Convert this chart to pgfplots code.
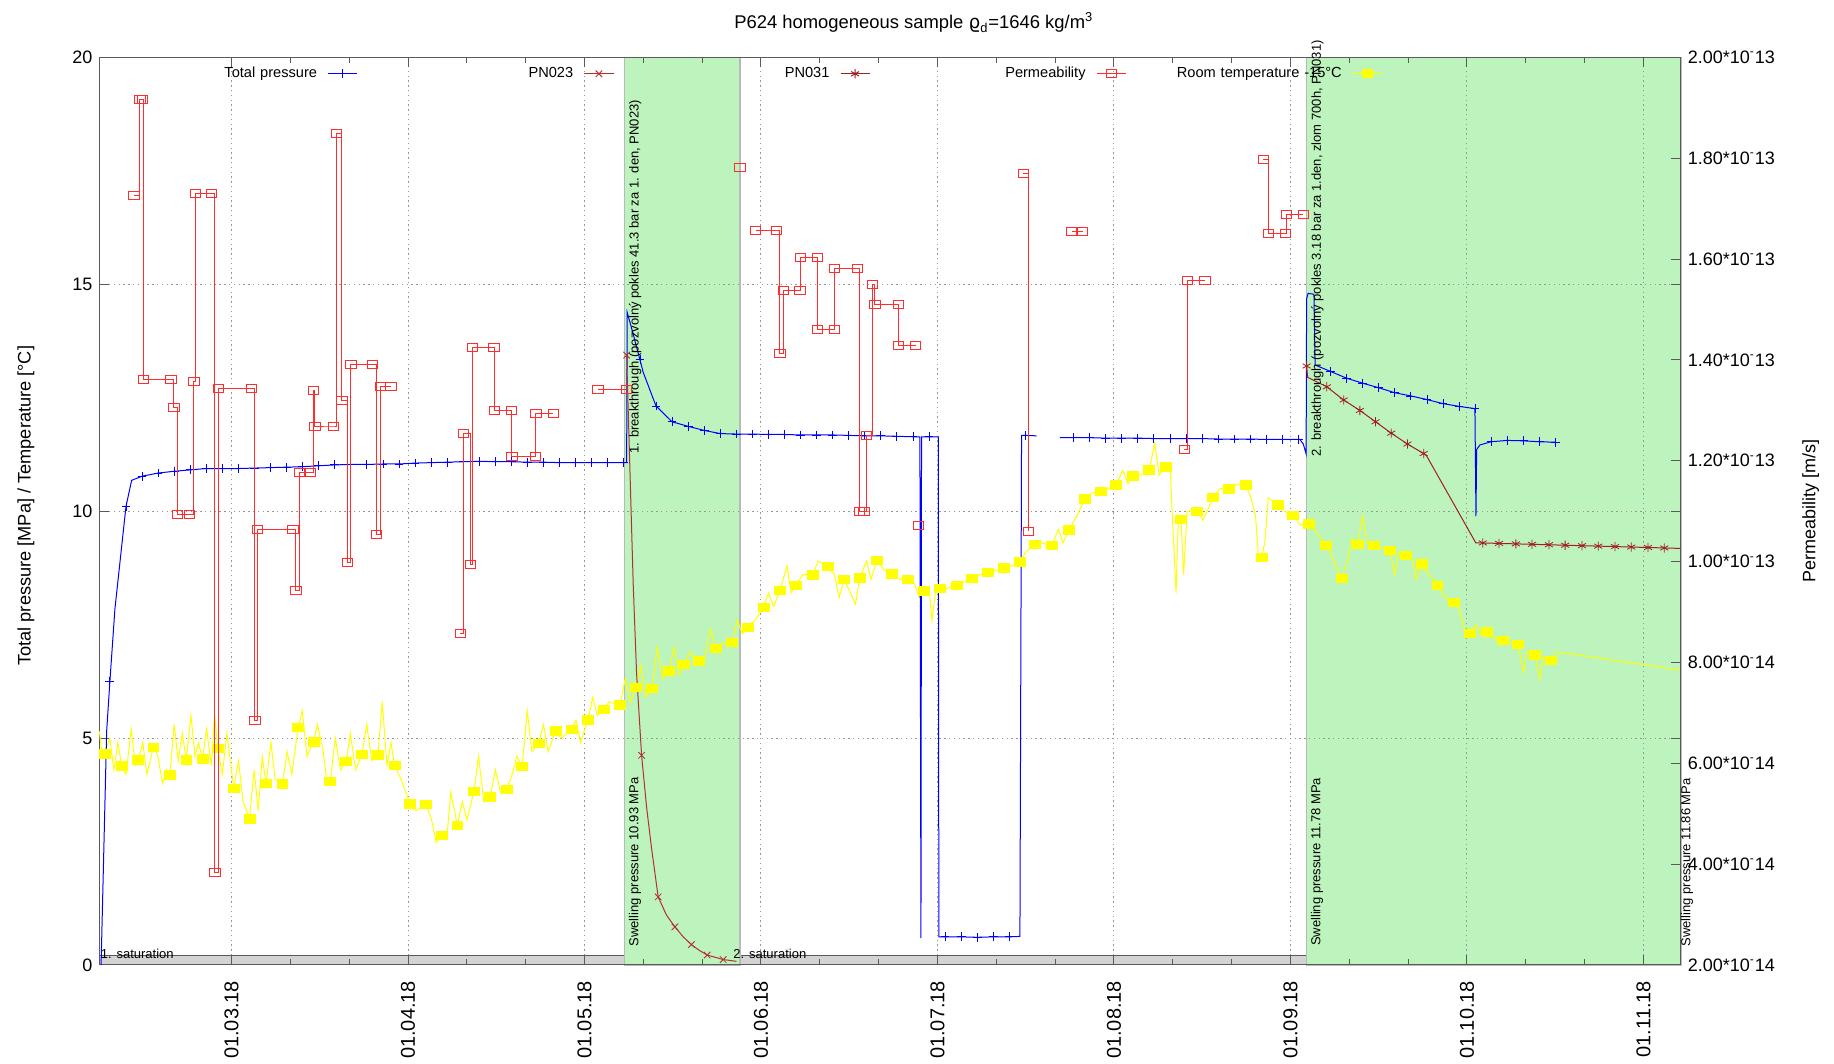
\documentclass[border=0pt]{standalone}
\usepackage{fontspec}
\setmainfont{Liberation Sans}
\newfontfamily\dejavu{DejaVu Sans}
\usepackage{pgfplots}
\usepackage{pgfplotstable}
\pgfplotsset{compat=1.18}

\definecolor{swell}{RGB}{189,243,189}
\definecolor{bandgray}{RGB}{211,211,211}
\definecolor{pnA}{RGB}{178,48,48}
\definecolor{pnB}{RGB}{160,32,32}
\definecolor{permred}{RGB}{255,45,45}
\definecolor{tempyel}{RGB}{255,255,0}
\definecolor{gridgray}{RGB}{150,150,150}
\definecolor{axisgray}{RGB}{90,90,90}

% x = days since 01.03.2018, ticks every 30.4375 days (one mean month)

% total pressure [MPa]; m=1 marks the sampled points drawn with a cross
\pgfplotstableread{
d p m
-22.50 0.00 0
-21.54 5.15 0
-20.98 6.25 1
-20.11 7.85 0
-19.24 8.88 0
-18.21 10.10 1
-17.23 10.68 0
-15.44 10.77 1
-12.67 10.84 1
-9.90 10.88 1
-7.13 10.91 1
-4.36 10.94 1
-1.59 10.94 1
1.18 10.94 1
3.95 10.95 1
6.72 10.96 1
9.49 10.97 1
12.26 10.98 1
15.03 11.00 1
17.80 11.02 1
20.57 11.03 1
23.34 11.03 1
26.11 11.04 1
28.88 11.04 1
31.65 11.06 1
34.42 11.07 1
37.19 11.08 1
39.96 11.09 1
42.73 11.10 1
45.50 11.09 1
48.27 11.09 1
51.04 11.08 1
53.81 11.08 1
56.58 11.07 1
59.35 11.07 1
62.12 11.07 1
64.89 11.07 1
67.66 11.07 1
68.14 11.07 0
68.24 14.38 0
69.28 13.90 0
70.43 13.34 1
71.00 13.06 0
73.20 12.32 1
75.97 11.97 1
78.74 11.87 1
81.51 11.78 1
84.28 11.71 1
87.05 11.70 1
89.82 11.70 1
92.59 11.69 1
95.36 11.69 1
98.13 11.68 1
100.90 11.68 1
103.67 11.68 1
106.44 11.67 1
109.21 11.66 1
111.98 11.66 1
114.75 11.65 1
117.52 11.64 1
118.72 11.64 0
118.90 0.59 0
119.00 11.64 0
120.29 11.64 1
121.89 11.64 0
121.99 0.62 0
123.06 0.62 1
125.83 0.62 1
128.60 0.61 1
131.37 0.62 1
134.14 0.62 1
135.97 0.63 0
136.25 11.67 0
136.91 11.67 1
138.85 11.66 0
140.50 nan 0
142.87 11.62 0
145.22 11.62 1
147.99 11.62 1
150.76 11.61 1
153.53 11.61 1
156.30 11.61 1
159.07 11.60 1
161.84 11.60 1
164.61 11.60 1
167.38 11.60 1
170.15 11.59 1
172.92 11.59 1
175.69 11.59 1
178.46 11.58 1
181.23 11.58 1
184.00 11.58 1
184.26 11.58 0
184.84 11.48 0
185.33 11.26 0
185.41 14.68 0
185.67 14.80 0
186.68 14.78 0
186.88 13.22 0
189.54 13.08 1
192.31 12.93 1
195.08 12.82 1
197.85 12.72 1
200.62 12.61 1
203.39 12.54 1
206.16 12.46 1
208.93 12.37 1
211.70 12.31 1
214.44 12.26 1
214.62 9.89 0
214.74 11.36 0
215.31 11.46 0
217.24 11.53 1
220.01 11.56 1
222.78 11.55 1
225.55 11.53 1
228.32 11.52 1
}\pressure

% pore pressure sensor PN023 [MPa]
\pgfplotstableread{
d p m
68.14 13.44 1
68.70 10.94 0
69.28 8.37 0
69.85 6.44 0
70.72 4.62 1
71.58 3.48 0
72.43 2.58 0
73.58 1.50 1
75.01 1.10 0
76.46 0.84 1
77.90 0.62 0
79.31 0.45 1
80.70 0.32 0
82.03 0.22 1
84.79 0.12 1
87.09 0.08 0
}\pnA

% pore pressure sensor PN031 [MPa]
\pgfplotstableread{
d p m
185.41 13.20 1
185.60 12.95 0
188.90 12.74 1
191.80 12.45 1
194.60 12.22 1
197.30 11.97 1
200.00 11.72 1
202.80 11.48 1
205.60 11.27 1
206.10 11.22 0
214.60 9.30 0
215.80 9.30 1
218.60 9.29 1
221.50 9.28 1
224.30 9.27 1
227.20 9.26 1
230.00 9.25 1
232.90 9.24 1
235.70 9.23 1
238.60 9.22 1
241.40 9.21 1
244.30 9.20 1
247.10 9.19 1
249.90 9.18 0
}\pnB

% permeability [1e-14 m/s]; nan separates measurement campaigns
\pgfplotstableread{
d k
-16.84 17.26
-15.79 19.16
-15.33 19.16
-15.23 13.61
-10.45 13.61
-9.94 13.05
-9.36 10.93
-7.28 10.93
-6.49 13.57
-6.19 17.30
-3.43 17.30
-2.86 3.83
-2.28 13.44
3.47 13.44
4.03 6.85
4.44 10.63
10.59 10.63
11.09 9.43
11.80 11.77
13.51 11.77
14.10 13.40
14.38 12.67
17.55 12.67
18.05 18.49
19.04 13.19
20.01 9.99
20.59 13.91
24.26 13.91
25.01 10.54
25.66 13.48
27.49 13.48
33.00 nan
39.45 8.57
40.02 12.54
41.17 9.94
41.57 14.24
45.24 14.24
45.30 13.00
48.29 13.00
48.35 12.08
52.44 12.08
52.50 12.94
55.49 12.94
60.00 nan
63.23 13.42
68.14 13.42
75.00 nan
87.66 17.82
89.00 nan
90.38 16.56
94.01 16.56
94.58 14.13
95.16 15.37
98.03 15.37
98.10 16.04
101.01 16.04
101.10 14.60
103.96 14.60
104.00 15.82
107.91 15.82
108.25 11.00
109.06 11.00
109.52 12.50
110.55 15.49
110.95 15.09
114.99 15.09
115.05 14.29
117.97 14.29
118.20 nan
118.44 10.71
125.00 nan
136.55 17.69
137.40 10.60
140.00 nan
144.88 16.54
146.78 16.54
150.00 nan
164.31 12.22
164.83 15.58
167.88 15.58
172.00 nan
177.94 17.97
178.79 16.51
181.78 16.51
181.96 16.88
184.84 16.88
}\perm

% room temperature [°C]; m=1 marks the sampled points drawn with a box
\pgfplotstableread{
d t m
-22.79 5.15 0
-22.30 4.60 0
-21.86 4.65 1
-21.00 5.00 0
-20.30 4.30 0
-19.60 4.90 0
-18.94 4.39 1
-18.20 4.20 0
-17.30 5.20 0
-16.60 4.40 0
-16.10 4.52 1
-15.30 4.90 0
-14.60 4.20 0
-13.47 4.80 1
-12.70 4.60 0
-11.90 4.00 0
-11.20 4.30 0
-10.63 4.19 1
-9.90 5.30 0
-9.20 4.50 0
-8.50 5.10 0
-7.79 4.52 1
-7.00 5.50 0
-6.30 4.60 0
-5.70 4.90 0
-5.00 4.54 1
-4.30 5.20 0
-3.50 4.40 0
-2.90 5.50 0
-2.38 4.77 1
-1.60 4.20 0
-0.80 5.10 0
0.38 3.89 1
1.20 4.50 0
2.00 3.60 0
3.09 3.22 1
3.90 4.30 0
4.60 3.40 0
5.30 4.60 0
5.93 4.00 1
6.80 4.90 0
7.50 4.10 0
8.77 3.99 1
9.60 4.70 0
10.40 4.20 0
11.48 5.24 1
12.20 5.60 0
13.00 4.60 0
14.16 4.92 1
14.80 5.30 0
15.70 4.80 0
16.40 4.10 0
17.02 4.04 1
17.90 5.00 0
18.80 4.30 0
19.79 4.49 1
20.50 5.10 0
21.40 4.30 0
22.49 4.64 1
23.30 5.30 0
24.20 4.50 0
25.25 4.63 1
26.00 5.80 0
26.80 4.40 0
27.50 4.90 0
28.10 4.40 1
29.20 4.10 0
30.80 3.55 1
31.80 3.40 0
33.56 3.54 1
34.50 3.20 0
35.30 2.70 0
36.35 2.86 1
37.20 2.90 0
37.80 3.80 0
38.95 3.08 1
39.80 3.60 0
40.60 3.20 0
41.81 3.83 1
42.60 4.60 0
43.50 3.60 0
44.58 3.70 1
45.50 4.30 0
46.40 3.80 0
47.42 3.87 1
48.40 4.20 0
49.20 4.60 0
50.12 4.38 1
51.00 5.60 0
51.80 4.70 0
52.97 4.88 1
53.80 5.30 0
54.60 4.70 0
55.89 5.16 1
56.80 5.00 0
58.68 5.19 1
59.40 5.40 0
60.20 4.90 0
61.44 5.40 1
62.30 5.90 0
63.10 5.50 0
64.20 5.63 1
65.10 5.80 0
66.98 5.73 1
67.90 6.30 0
68.80 5.80 0
69.75 6.12 1
70.60 6.60 0
71.40 5.90 0
72.53 6.10 1
73.40 7.00 0
74.30 6.30 0
75.46 6.48 1
76.30 7.00 0
77.20 6.40 0
78.06 6.62 1
79.00 6.90 0
80.68 6.70 1
81.60 6.80 0
82.60 7.40 0
83.50 6.98 1
84.70 7.10 0
86.35 7.11 1
87.20 7.60 0
88.10 7.30 0
89.11 7.44 1
90.30 7.60 0
91.76 7.88 1
92.60 8.20 0
93.50 7.90 0
94.58 8.25 1
95.80 8.80 0
96.50 8.20 0
97.34 8.37 1
98.50 8.60 0
100.21 8.60 1
101.20 8.90 0
102.91 8.78 1
104.00 8.60 0
104.80 8.10 0
105.67 8.50 1
107.60 7.95 0
108.37 8.53 1
109.50 8.90 0
110.30 8.50 0
111.26 8.91 1
112.60 8.70 0
113.96 8.62 1
115.20 8.50 0
116.70 8.50 1
117.80 8.40 0
118.60 8.10 0
119.41 8.24 1
120.30 8.30 0
120.80 7.60 0
121.40 8.20 0
122.17 8.30 1
123.50 8.30 0
125.03 8.37 1
126.40 8.45 0
127.74 8.52 1
129.10 8.60 0
130.50 8.65 1
131.90 8.70 0
133.20 8.75 1
134.60 8.80 0
135.97 8.88 1
137.00 9.10 0
138.55 9.27 1
139.80 9.30 0
141.43 9.24 1
142.60 9.60 0
143.40 9.30 0
144.42 9.59 1
145.80 9.90 0
147.18 10.27 1
148.30 10.40 0
149.90 10.44 1
151.20 10.50 0
152.59 10.58 1
153.70 10.90 0
154.60 10.60 0
155.51 10.78 1
156.80 10.80 0
158.28 10.91 1
159.20 11.50 0
160.00 10.80 0
161.08 10.98 1
161.90 10.90 0
162.40 9.50 0
162.90 8.20 0
163.30 9.90 0
163.74 9.82 1
164.20 8.60 0
164.80 10.00 0
166.55 10.00 1
167.50 9.80 0
169.31 10.30 1
170.50 10.50 0
172.07 10.49 1
173.40 10.60 0
174.88 10.58 1
175.80 10.30 0
176.60 9.90 0
177.10 9.00 0
177.64 8.98 1
178.20 9.30 0
178.80 10.30 0
180.40 10.14 1
181.50 10.00 0
183.10 9.91 1
184.30 9.70 0
185.87 9.72 1
187.30 9.50 0
188.73 9.24 1
189.80 9.00 0
191.43 8.52 1
192.50 8.90 0
193.20 9.40 0
194.20 9.27 1
195.10 9.90 0
195.80 9.30 0
197.02 9.24 1
198.30 9.20 0
199.78 9.14 1
200.60 8.60 0
201.30 9.10 0
202.53 9.03 1
203.60 8.95 0
204.30 8.50 0
205.25 8.84 1
206.50 8.60 0
207.97 8.37 1
209.30 8.10 0
210.82 7.99 1
211.80 7.80 0
212.60 7.40 0
213.58 7.31 1
214.60 7.50 0
215.40 7.30 0
216.44 7.34 1
217.80 7.20 0
219.21 7.15 1
220.60 7.10 0
221.91 7.06 1
222.80 6.45 0
223.40 6.90 0
224.78 6.83 1
225.60 6.30 0
226.30 6.80 0
227.54 6.71 1
228.53 6.90 0
249.79 6.50 0
}\temperature

\begin{document}
\begin{tikzpicture}

\begin{axis}[
  set layers,
  scale only axis, width=790.7pt, height=453.8pt,
  xmin=-22.79, xmax=249.95, ymin=0, ymax=20,
  clip=false,
  xtick={0,30.4375,60.875,91.3125,121.75,152.1875,182.625,213.0625,243.5},
  xticklabels={01.03.18,01.04.18,01.05.18,01.06.18,01.07.18,01.08.18,01.09.18,01.10.18,01.11.18},
  minor x tick num=2,
  ytick={0,5,10,15,20},
  yticklabels={0,5,10,15,20},
  xticklabel shift=4.5pt,
  xticklabel style={rotate=90, anchor=east, font=\fontsize{10}{12}\selectfont},
  yticklabel style={font=\fontsize{9}{11}\selectfont},
  xmajorgrids, ymajorgrids,
  major grid style={gridgray, line width=0.5pt, dash pattern=on 0.7pt off 1.7pt},
  tick style={axisgray, line width=0.5pt},
  major tick length=5pt, minor tick length=3pt,
  axis line style={axisgray, line width=0.5pt},
  ylabel={Total pressure [MPa] / Temperature [°C]},
  ylabel style={at={(axis description cs:-0.0465,0.506)}, anchor=center, font=\fontsize{9.1}{11}\selectfont},
  title={P624 homogeneous sample {\dejavu ϱ}\textsubscript{d}=1646 kg/m\textsuperscript{3}},
  title style={at={(axis description cs:0.515,1.0335)}, anchor=base, yshift=-7pt, font=\fontsize{9.2}{11}\selectfont},
]
% saturation band along the bottom and the two swelling periods
\addplot[fill=bandgray, draw=none, on layer=axis background]
  coordinates {(-22.79,0) (-22.79,0.2) (185.4,0.2) (185.4,0)} --cycle;
\addplot[gray!70!black, line width=0.5pt, on layer=axis background]
  coordinates {(-22.79,0.2) (185.4,0.2)};
\addplot[fill=swell, draw=gray!55, line width=0.8pt, on layer=axis background]
  coordinates {(67.77,0) (67.77,20) (87.74,20) (87.74,0)} --cycle;
\addplot[fill=swell, draw=gray!55, line width=0.8pt, on layer=axis background]
  coordinates {(185.4,0) (185.4,20) (249.95,20) (249.95,0)} --cycle;

% room temperature
\addplot[tempyel, line width=0.5pt] table[x=d, y=t] {\temperature};
\addplot[tempyel, only marks, mark=square*, mark size=2.1pt, mark options={xscale=1.3},
  restrict expr to domain={\thisrow{m}}{1:1}] table[x=d, y=t] {\temperature};

% total pressure
\addplot[blue, line width=0.5pt, unbounded coords=jump] table[x=d, y=p] {\pressure};
\addplot[blue, only marks, mark=+, mark size=2.2pt,
  restrict expr to domain={\thisrow{m}}{1:1}] table[x=d, y=p] {\pressure};

% pore pressures
\addplot[pnA, line width=0.5pt] table[x=d, y=p] {\pnA};
\addplot[pnA, only marks, mark=x, mark size=2.3pt,
  restrict expr to domain={\thisrow{m}}{1:1}] table[x=d, y=p] {\pnA};
\addplot[pnB, line width=0.5pt] table[x=d, y=p] {\pnB};
\addplot[pnB, only marks, mark=asterisk, mark size=2.3pt,
  restrict expr to domain={\thisrow{m}}{1:1}] table[x=d, y=p] {\pnB};

% annotations
\begin{scope}[every node/.style={inner sep=0pt, font=\fontsize{6.5}{7}\selectfont}]
\node[rotate=90, anchor=west] at (axis cs:69.6,11.26) {1. breakthrough (pozvolný pokles 41.3 bar za 1. den, PN023)};
\node[rotate=90, anchor=west] at (axis cs:69.6,0.40) {Swelling pressure 10.93 MPa};
\node[rotate=90, anchor=west] at (axis cs:187.3,11.20) {2. breakthrough (pozvolný pokles 3.18 bar za 1.den, zlom 700h, PN031)};
\node[rotate=90, anchor=west] at (axis cs:187.2,0.41) {Swelling pressure 11.78 MPa};
\node[rotate=90, anchor=west] at (axis cs:251.0,0.40) {Swelling pressure 11.86 MPa};
\node[anchor=base west] at (axis cs:-22.6,0.15) {1. saturation};
\node[anchor=base west] at (axis cs:86.5,0.15) {2. saturation};
\end{scope}
\end{axis}

\begin{axis}[
  set layers,
  scale only axis, width=790.7pt, height=453.8pt,
  xmin=-22.79, xmax=249.95, ymin=2, ymax=20,
  clip=false,
  hide x axis,
  axis y line*=right,
  ytick={2,4,...,20},
  yticklabels={2.00*10\textsuperscript{-}14,4.00*10\textsuperscript{-}14,6.00*10\textsuperscript{-}14,8.00*10\textsuperscript{-}14,1.00*10\textsuperscript{-}13,1.20*10\textsuperscript{-}13,1.40*10\textsuperscript{-}13,1.60*10\textsuperscript{-}13,1.80*10\textsuperscript{-}13,2.00*10\textsuperscript{-}13},
  yticklabel style={font=\fontsize{9}{11}\selectfont},
  tick style={axisgray, line width=0.5pt},
  major tick length=5pt,
  axis line style={axisgray, line width=0.5pt},
  ylabel={Permeability [m/s]},
  ylabel style={at={(axis description cs:1.0821,0.5)}, anchor=center, font=\fontsize{9}{11}\selectfont},
  legend columns=5,
  legend plot pos=right,
  legend image code/.code={\draw[mark repeat=2, mark phase=2, #1] plot coordinates {(0pt,0pt) (7.3pt,0pt) (14.6pt,0pt)};},
  legend style={draw=none, fill=none, at={(0.0086,0.9819)}, anchor=west,
    inner sep=0pt, outer sep=0pt, font=\fontsize{7.3}{8.5}\selectfont,
    nodes={text width=100pt, align=right, inner sep=2pt},
    /tikz/every odd column/.append style={column sep=3.3pt},
    /tikz/every even column/.append style={column sep=5.7pt}},
]
\addlegendimage{blue, line width=0.5pt, mark=+, mark size=2.2pt}
\addlegendentry{Total pressure}
\addlegendimage{pnA, line width=0.5pt, mark=x, mark size=2.3pt}
\addlegendentry{PN023}
\addlegendimage{pnB, line width=0.5pt, mark=asterisk, mark size=2.3pt}
\addlegendentry{PN031}
\addlegendimage{permred, line width=0.5pt, mark=square, mark size=2pt, mark options={xscale=1.3}}
\addlegendentry{Permeability}
\addlegendimage{tempyel, line width=0.5pt, mark=square*, mark size=2pt, mark options={xscale=1.3}}
\addlegendentry{Room temperature -15°C}

% permeability, step style
\addplot[permred, line width=0.5pt, const plot, unbounded coords=jump,
  mark=square, mark size=2pt, mark options={solid, xscale=1.3}, forget plot]
  table[x=d, y=k] {\perm};
\end{axis}

% fixed page frame around the plot area
\pgfresetboundingbox
\useasboundingbox (-49.7pt,-49.1pt) rectangle (867.3pt,482.5pt);
\end{tikzpicture}
\end{document}
